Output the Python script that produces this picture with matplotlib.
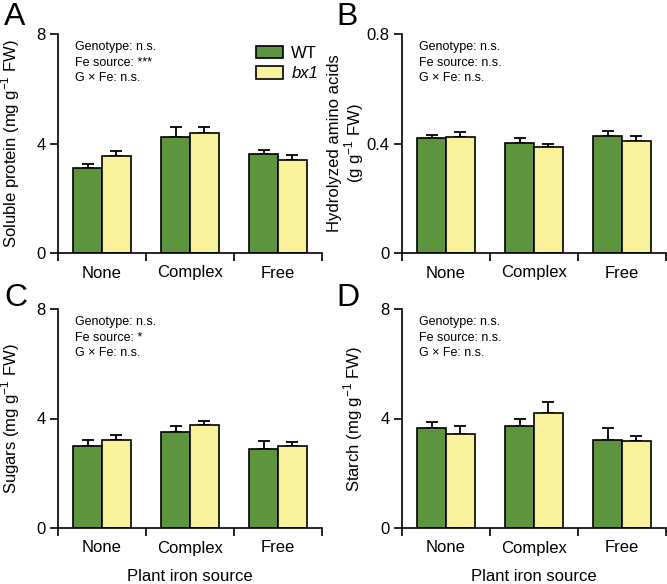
import numpy as np
import matplotlib
matplotlib.use("Agg")
import matplotlib.pyplot as plt
from matplotlib.patches import Patch

plt.rcParams["font.family"] = ["Liberation Sans", "DejaVu Sans"]
plt.rcParams["mathtext.fontset"] = "custom"
plt.rcParams["mathtext.rm"] = "Liberation Sans"

sources = ["None", "Complex", "Free"]
genotypes = ["WT", "bx1"]

# means and upper error (mean + SE)
protein_wt = [3.09, 4.23, 3.61]
protein_wt_top = [3.24, 4.59, 3.78]
protein_bx1 = [3.54, 4.39, 3.39]
protein_bx1_top = [3.73, 4.59, 3.58]

amino_wt = [0.421, 0.403, 0.428]
amino_wt_top = [0.432, 0.419, 0.447]
amino_bx1 = [0.425, 0.387, 0.409]
amino_bx1_top = [0.443, 0.399, 0.427]

sugar_wt = [3.01, 3.51, 2.89]
sugar_wt_top = [3.21, 3.71, 3.18]
sugar_bx1 = [3.20, 3.75, 2.99]
sugar_bx1_top = [3.39, 3.92, 3.14]

starch_wt = [3.65, 3.71, 3.21]
starch_wt_top = [3.87, 4.00, 3.66]
starch_bx1 = [3.45, 4.20, 3.19]
starch_bx1_top = [3.74, 4.62, 3.37]

stats_a = ["Genotype: n.s.", "Fe source: ***", "G \u00d7 Fe: n.s."]
stats_b = ["Genotype: n.s.", "Fe source: n.s.", "G \u00d7 Fe: n.s."]
stats_c = ["Genotype: n.s.", "Fe source: *", "G \u00d7 Fe: n.s."]
stats_d = ["Genotype: n.s.", "Fe source: n.s.", "G \u00d7 Fe: n.s."]

green = "#5e943e"
yellow = "#f8f29c"

W, H = 667, 584
fig = plt.figure(figsize=(W / 100, H / 100), dpi=100)

def px_axes(x0, x1, ytop, ybot):
    return fig.add_axes([x0 / W, 1 - ybot / H, (x1 - x0) / W, (ybot - ytop) / H])

ax_a = px_axes(58, 322, 34, 253)
ax_b = px_axes(402, 666, 34, 253)
ax_c = px_axes(58, 322, 309, 528)
ax_d = px_axes(402, 666, 309, 528)


def panel(ax, wt, wt_top, bx, bx_top, ymax, yticks, yticklabels, ylabel, ylab_x,
          stats, letter, letter_xy, xlabel):
    x = np.arange(len(sources)) + 0.5
    w = 0.325
    for xs, vals, tops, col in [(x - w / 2, wt, wt_top, green), (x + w / 2, bx, bx_top, yellow)]:
        vals = np.array(vals)
        err = np.array(tops) - vals
        ax.errorbar(xs, vals, yerr=[np.zeros_like(err), err], fmt="none",
                    ecolor="black", elinewidth=1.3, capsize=4, capthick=1.3, zorder=1)
        ax.bar(xs, vals, width=w, color=col, edgecolor="black", linewidth=1.2, zorder=2)
    ax.set_xlim(0, 3)
    ax.set_ylim(0, ymax)
    ax.set_xticks([0, 1, 2, 3])
    ax.set_xticklabels([])
    ax.set_xticks(x, minor=True)
    ax.set_xticklabels(sources, minor=True, fontsize=12)
    ax.tick_params(axis="x", which="minor", length=0, pad=9)
    ax.tick_params(axis="x", which="major", length=6, width=1.2)
    ax.set_yticks(yticks)
    ax.set_yticklabels(yticklabels, fontsize=12)
    ax.tick_params(axis="y", length=6, width=1.2, pad=3)
    for s in ["top", "right"]:
        ax.spines[s].set_visible(False)
    for s in ["left", "bottom"]:
        ax.spines[s].set_linewidth(1.2)
    ax.set_ylabel(ylabel, fontsize=12, linespacing=1.05)
    # label anchored by its baseline side (right edge when rotated)
    ax.yaxis.set_label_coords(ylab_x, 0.5)
    for i, line in enumerate(stats):
        ax.text(0.065, 0.94 - i * 0.071, line, transform=ax.transAxes,
                fontsize=9, va="center", ha="left")
    fig.text(letter_xy[0] / W, 1 - letter_xy[1] / H, letter, fontsize=23,
             va="center", ha="left")
    if xlabel:
        ax.set_xlabel(xlabel, fontsize=12, labelpad=10)


panel(ax_a, protein_wt, protein_wt_top, protein_bx1, protein_bx1_top, 8, [0, 4, 8],
      ["0", "4", "8"], "Soluble protein (mg g$^{-1}$ FW)", -0.135, stats_a, "A", (4, 17), None)
panel(ax_b, amino_wt, amino_wt_top, amino_bx1, amino_bx1_top, 0.8, [0, 0.4, 0.8],
      ["0", "0.4", "0.8"], "Hydrolyzed amino acids\n(g g$^{-1}$ FW)", -0.135, stats_b, "B",
      (336, 17), None)
panel(ax_c, sugar_wt, sugar_wt_top, sugar_bx1, sugar_bx1_top, 8, [0, 4, 8],
      ["0", "4", "8"], "Sugars (mg g$^{-1}$ FW)", -0.135, stats_c, "C", (4, 298),
      "Plant iron source")
panel(ax_d, starch_wt, starch_wt_top, starch_bx1, starch_bx1_top, 8, [0, 4, 8],
      ["0", "4", "8"], "Starch (mg g$^{-1}$ FW)", -0.14, stats_d, "D", (336, 298),
      "Plant iron source")

handles = [Patch(facecolor=green, edgecolor="black", linewidth=1.2),
           Patch(facecolor=yellow, edgecolor="black", linewidth=1.2)]
leg = ax_a.legend(handles, genotypes, loc="upper left", bbox_to_anchor=(0.72, 0.985),
                  frameon=False, fontsize=12, handlelength=1.6, handleheight=0.8,
                  labelspacing=0.3, handletextpad=0.5, borderpad=0)
leg.get_texts()[1].set_fontstyle("italic")

fig.savefig("out.png", dpi=100)
